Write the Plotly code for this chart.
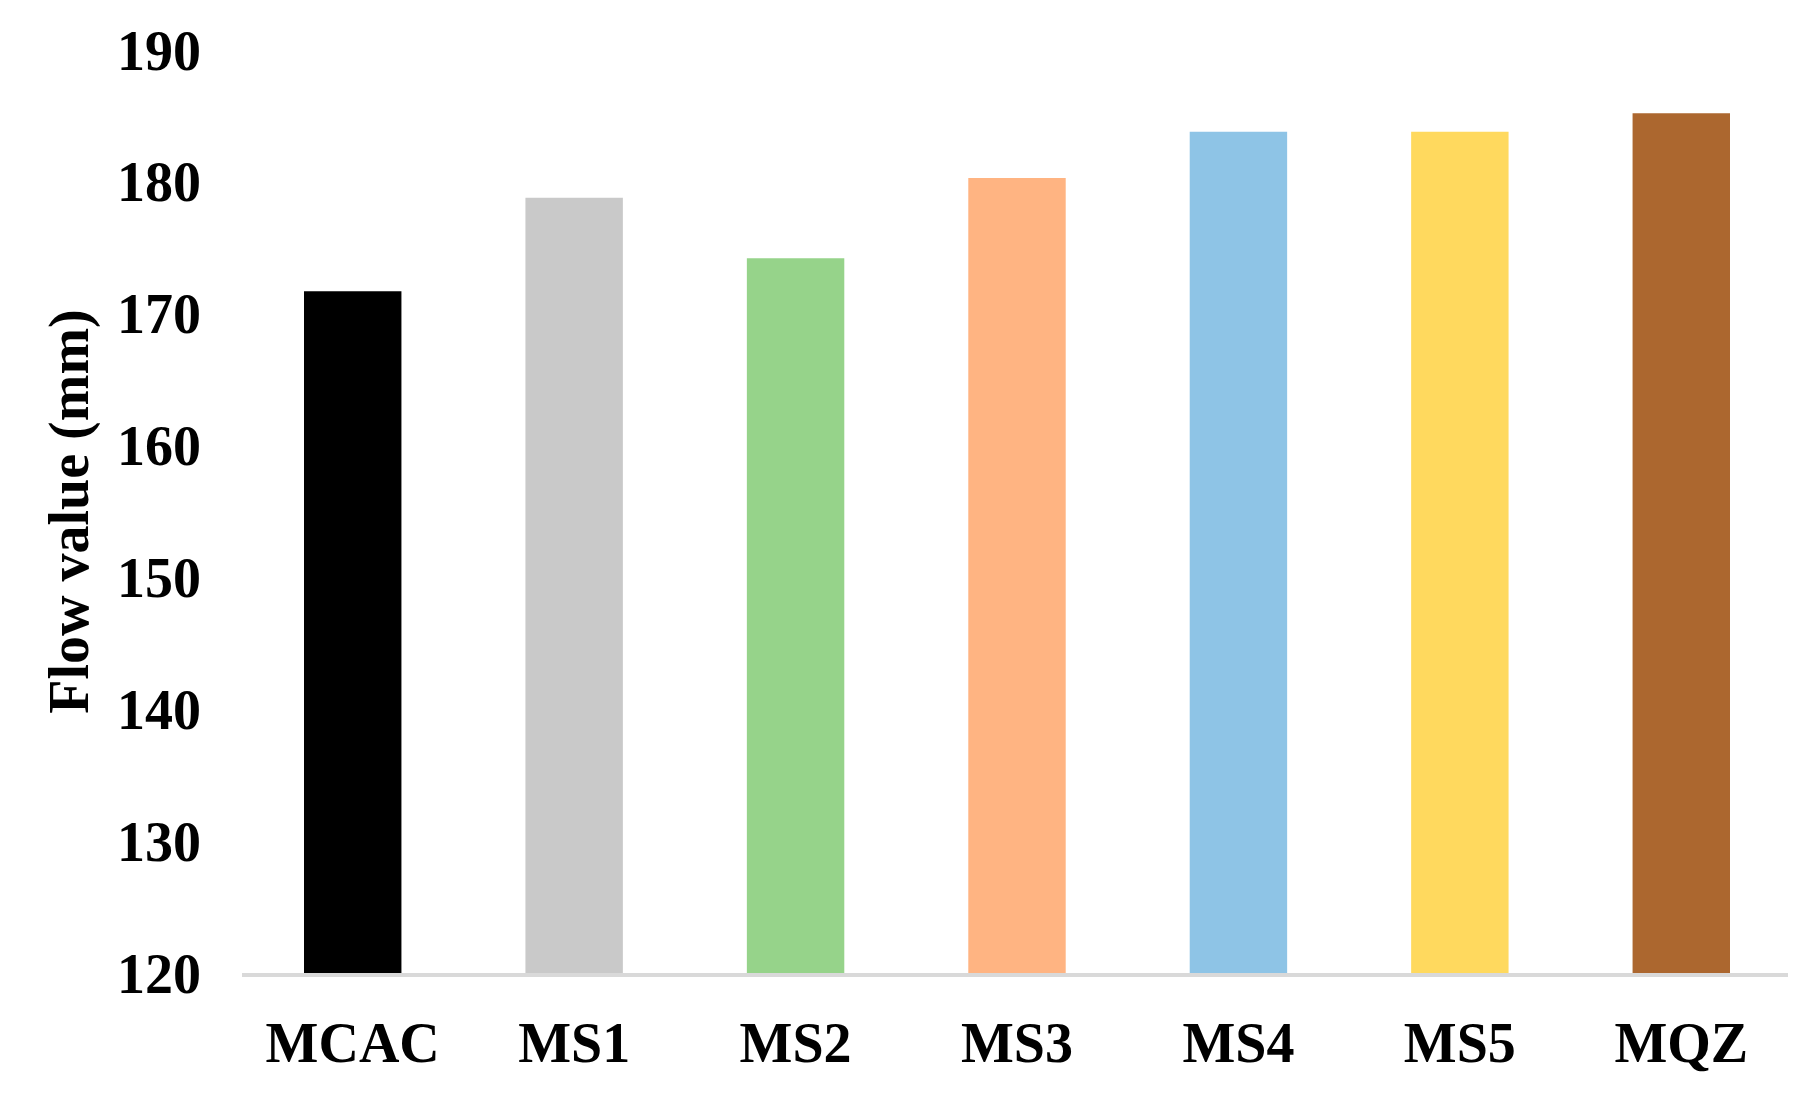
import plotly.graph_objects as go

categories = ["MCAC", "MS1", "MS2", "MS3", "MS4", "MS5", "MQZ"]
values = [171.7, 178.8, 174.2, 180.3, 183.8, 183.8, 185.2]
colors = ["#000000", "#C9C9C9", "#96D38A", "#FFB482", "#8EC4E6", "#FFD95E", "#AC672F"]
y_ticks = [120, 130, 140, 150, 160, 170, 180, 190]

fig = go.Figure(go.Bar(x=categories, y=values, marker=dict(color=colors, line_width=0), width=0.44))
tf = dict(family="Liberation Serif", size=56, color="black", weight="bold")
fig.update_layout(
    width=1796, height=1095, plot_bgcolor="white", paper_bgcolor="white",
    margin=dict(l=234, r=12, t=42, b=130), showlegend=False,
)
fig.update_xaxes(showline=True, linecolor="#D9D9D9", linewidth=4, ticks="", tickfont=tf, ticklabelstandoff=18)
fig.update_yaxes(range=[120, 190], tickvals=y_ticks, showgrid=False, zeroline=False, ticks="",
                 tickfont=tf, ticklabelstandoff=40,
                 title=dict(text="<b>Flow value (mm)</b>", font=dict(family="Liberation Serif", size=56, color="black"), standoff=10))
fig.write_html("out.html")
